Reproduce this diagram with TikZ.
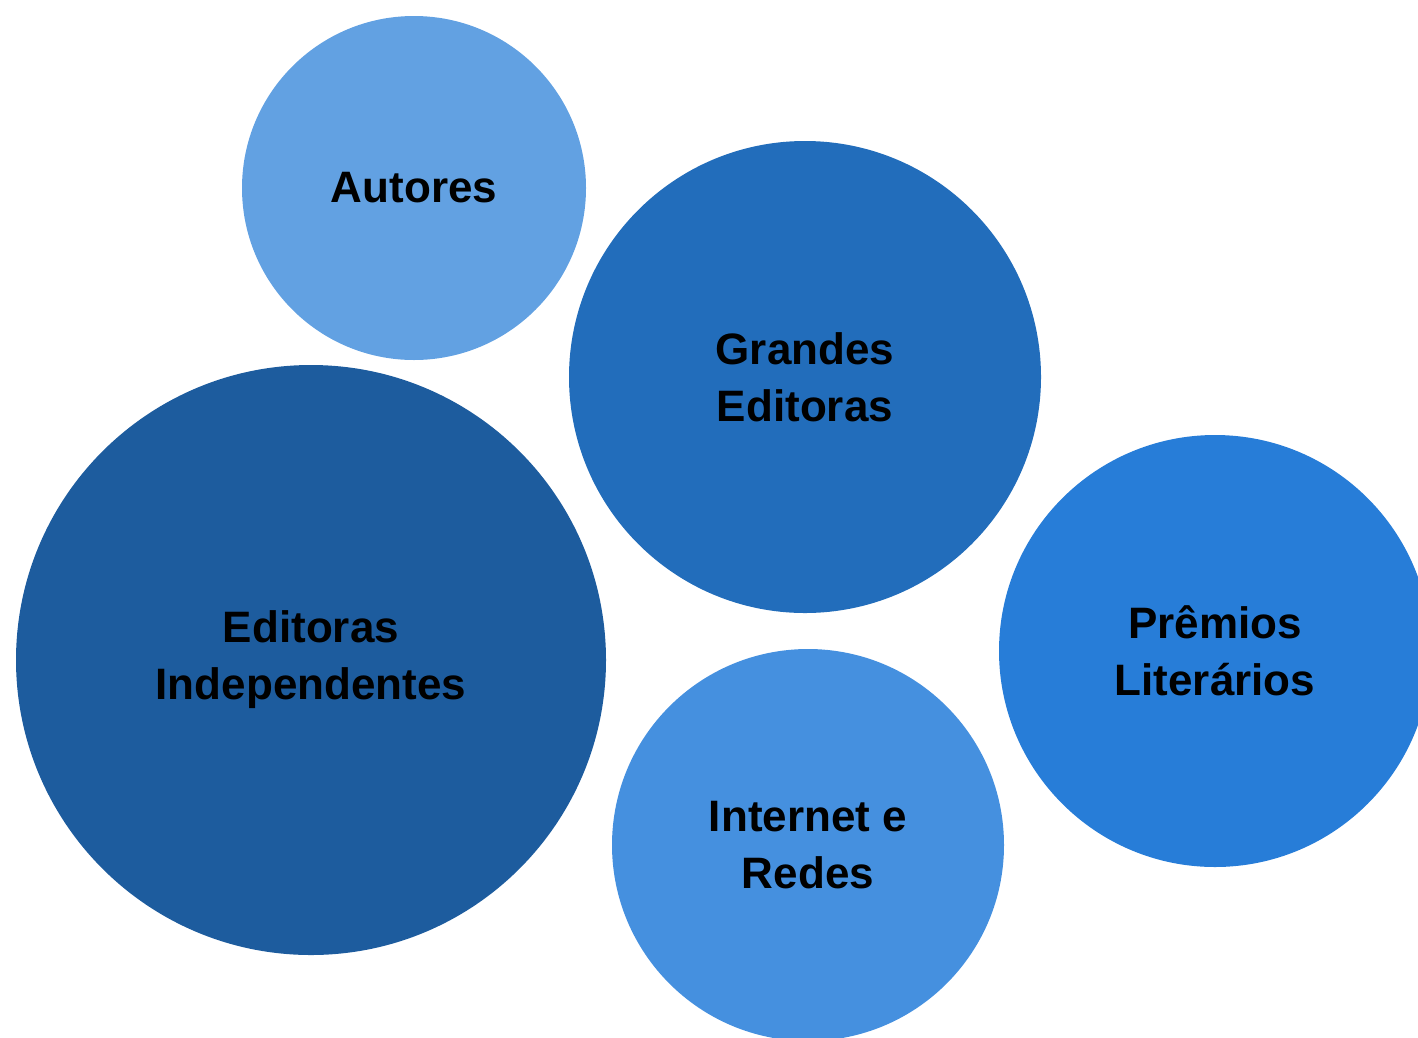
\documentclass[tikz,border=0pt]{standalone}
\usepackage{fontspec}
\setmainfont{Liberation Sans}
\usepackage{xcolor}
\usepackage{tikz}
\definecolor{autorblue}{HTML}{62A1E2}
\definecolor{grandeblue}{HTML}{226DBB}
\definecolor{indepblue}{HTML}{1D5C9E}
\definecolor{premioblue}{HTML}{277DD8}
\definecolor{netblue}{HTML}{4590DF}
\tikzset{
  bubble/.style={circle, draw=none, inner sep=0pt, align=center,
    font=\bfseries\fontsize{44}{57}\selectfont},
  radius px/.style={minimum size={2*#1pt}}% radius in px
}

\begin{document}
\begin{tikzpicture}[x=1pt,y=-1pt]

\useasboundingbox (0,0) rectangle (1418,1037);
\clip (0,0) rectangle (1418,1037);

\node[bubble, fill=autorblue, radius px=172] (autores) at (414,188) {Autores};
\node[bubble, fill=grandeblue, radius px=236] (grandes) at (805,377) {Grandes\\Editoras};
\node[bubble, fill=indepblue, radius px=295] (indep) at (311,660) {Editoras\\Independentes};
\node[bubble, fill=premioblue, radius px=216] (premios) at (1215,651) {Prêmios\\Literários};
\node[bubble, fill=netblue, radius px=196] (internet) at (808,845) {Internet e\\Redes};

\end{tikzpicture}
\end{document}
